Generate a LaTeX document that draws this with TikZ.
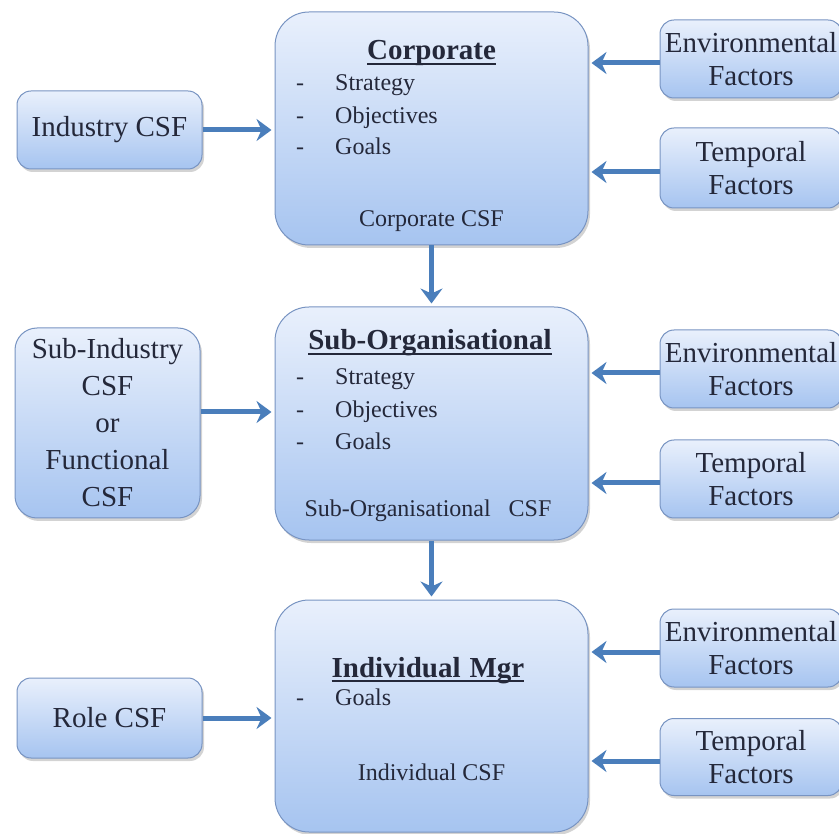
\documentclass[tikz,border=0pt]{standalone}
\usepackage{fontspec}
\setmainfont{Liberation Serif}
\newcommand{\thickul}[1]{\sbox0{#1}\rlap{\raisebox{-5pt}{\rule{\wd0}{2pt}}}\usebox0}
\usetikzlibrary{arrows.meta,shadows}
\definecolor{boxtop}{RGB}{233,240,252}
\definecolor{boxbot}{RGB}{166,196,240}
\definecolor{boxline}{RGB}{120,148,194}
\definecolor{flowblue}{RGB}{74,126,187}
\definecolor{inktext}{RGB}{36,40,58}
\tikzset{
  csfbox/.style={draw=boxline, line width=1pt, top color=boxtop, bottom color=boxbot,
    rounded corners=14pt, drop shadow={shadow xshift=2pt, shadow yshift=-3pt, opacity=0.35},
    text=inktext, font=\fontsize{29}{33}\selectfont, align=center, inner sep=0pt},
  levelbox/.style={csfbox, rounded corners=34pt, minimum width=313pt, minimum height=233pt},
  sidebox/.style={csfbox, minimum width=185pt, minimum height=78pt},
  factorbox/.style={csfbox, minimum width=182pt, minimum height=78pt},
  leveltitle/.style={anchor=base, text=inktext, inner sep=0pt, font=\bfseries\fontsize{29}{33}\selectfont},
  item/.style={anchor=base west, text=inktext, inner sep=0pt, font=\fontsize{24}{28}\selectfont},
  csflabel/.style={anchor=base, text=inktext, inner sep=0pt, font=\fontsize{24}{28}\selectfont},
  flow/.style={-{Stealth[length=15pt,width=22pt,inset=5pt]}, line width=5pt, draw=flowblue, shorten >=3pt}
}
\begin{document}
\begin{tikzpicture}[x=1pt, y=-1pt]
\useasboundingbox (0,0) rectangle (839,834);
\clip (0,0) rectangle (839,834);
% the three levels
\node[levelbox] (corp) at (431.5,128.5) {};
\node[levelbox] (sub) at (431.5,423.5) {};
\node[levelbox, minimum height=232pt] (indiv) at (431.5,716) {};
\node[leveltitle] (corptitle) at (431.5,60) {\thickul{Corporate}};
\node[item] (corpstrat) at (296,91) {\makebox[39pt][l]{-}Strategy};
\node[item] (corpobj) at (296,124) {\makebox[39pt][l]{-}Objectives};
\node[item] (corpgoal) at (296,155) {\makebox[39pt][l]{-}Goals};
\node[csflabel] (corpcsf) at (431.5,227) {Corporate CSF};
\node[leveltitle] (subtitle) at (430,350) {\thickul{Sub-Organisational}};
\node[item] (substrat) at (296,385) {\makebox[39pt][l]{-}Strategy};
\node[item] (subobj) at (296,418) {\makebox[39pt][l]{-}Objectives};
\node[item] (subgoal) at (296,450) {\makebox[39pt][l]{-}Goals};
\node[csflabel] (subcsf) at (428,517) {Sub-Organisational\hspace{18pt}CSF};
\node[leveltitle] (indivtitle) at (428,677) {\thickul{Individual\hspace{9pt}Mgr}};
\node[item] (indivgoal) at (296,705) {\makebox[39pt][l]{-}Goals};
\node[csflabel] (indivcsf) at (431.5,780) {Individual CSF};
% left inputs
\node[sidebox] (ind) at (109.5,130) {Industry CSF};
\node[sidebox, minimum height=190pt, rounded corners=22pt, font=\fontsize{29}{37}\selectfont] (subind) at (107.5,423) {Sub-Industry\\CSF\\or\\Functional\\CSF};
\node[sidebox, minimum height=80pt] (role) at (109.5,718) {Role CSF};
% right inputs
\node[factorbox] (env1) at (751,59) {Environmental\\Factors};
\node[factorbox, minimum height=80pt] (temp1) at (751,168) {Temporal\\Factors};
\node[factorbox] (env2) at (751,369) {Environmental\\Factors};
\node[factorbox] (temp2) at (751,479) {Temporal\\Factors};
\node[factorbox] (env3) at (751,648) {Environmental\\Factors};
\node[factorbox, minimum height=77pt] (temp3) at (751,757) {Temporal\\Factors};
% arrows
\draw[flow] (corp) -- (sub);
\draw[flow] (sub) -- (indiv);
\draw[flow] (ind) -- (ind -| corp.west);
\draw[flow] ([yshift=11pt]subind.east) -- ([yshift=11pt]subind.east -| sub.west);
\draw[flow] (role) -- (role -| indiv.west);
\foreach \fac/\lvl in {env1/corp, temp1/corp, env2/sub, temp2/sub, env3/indiv, temp3/indiv}
  \draw[flow] ([yshift=-4pt]\fac.west) -- ([yshift=-4pt]\fac.west -| \lvl.east);
\end{tikzpicture}
\end{document}
